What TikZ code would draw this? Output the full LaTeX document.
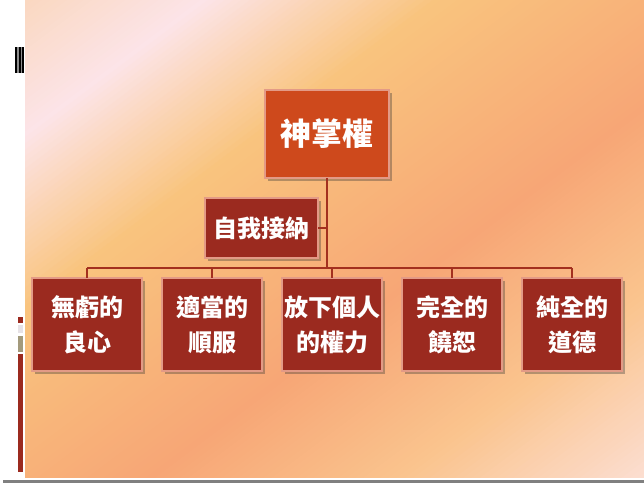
\documentclass[tikz,border=0pt]{standalone}
\usepackage{fontspec}
\newfontfamily\cjk{Noto Sans CJK TC}
\usetikzlibrary{shadows}
\definecolor{g0}{HTML}{F9D4B4}
\definecolor{g1}{HTML}{FCE4E8}
\definecolor{g2}{HTML}{F9C47E}
\definecolor{g3}{HTML}{F7A676}
\definecolor{g4}{HTML}{FAC48E}
\definecolor{g5}{HTML}{FCE2DC}
\definecolor{boxred}{HTML}{9B2A1F}
\definecolor{toporange}{HTML}{CE491C}
\definecolor{linered}{HTML}{A3301F}
\definecolor{edgepink}{HTML}{E39A86}
\definecolor{edgedark}{HTML}{7E2016}
\definecolor{barlight}{HTML}{E6E2E6}
\definecolor{barkhaki}{HTML}{A39A7C}
\begin{document}
\begin{tikzpicture}[x=1pt,y=-1pt,
  boxbase/.style={draw=edgedark, line width=0.5pt, double=edgepink, double distance=1.3pt,
    text=white, align=center, inner sep=0pt,
    drop shadow={shadow xshift=2.5pt, shadow yshift=-3pt, opacity=0.35, fill=black!80}},
  topbox/.style={boxbase, fill=toporange, minimum width=124pt, minimum height=88pt,
    font=\cjk\bfseries\fontsize{31pt}{36pt}\selectfont},
  midbox/.style={boxbase, fill=boxred, minimum width=113pt, minimum height=60pt,
    font=\cjk\bfseries\fontsize{24pt}{28pt}\selectfont},
  lowbox/.style={boxbase, fill=boxred, minimum width=100pt, minimum height=93pt,
    font=\cjk\bfseries\fontsize{24pt}{35pt}\selectfont},
  conn/.style={draw=linered, line width=1.6pt}]
\useasboundingbox (0,0) rectangle (644,484);
\fill[white] (0,0) rectangle (644,484);
% slide background gradient
\begin{scope}
  \clip (25,0) rectangle (644,477);
  \begin{scope}[rotate=-53.13]
    \foreach \a/\b/\ca/\cb in {-20/120/g0/g1,120/260/g1/g2,260/470/g2/g3,470/620/g3/g4,620/790/g4/g5}{
      \pgfmathtruncatemacro\n{(\b-\a)/5}
      \foreach \i in {0,...,\n}{
        \pgfmathtruncatemacro\t{100*\i/\n}
        \fill[\cb!\t!\ca] (\a+5*\i,-900) rectangle (\a+5*\i+5.8,900);
      }
    }
  \end{scope}
\end{scope}
% bottom edge line
\fill[black!50] (3,479.5) rectangle (644,482.5);
% left decorations
\fill[black] (15,47) rectangle (24,73);
\fill[black!45] (17.2,47) rectangle (18.6,73);
\fill[black!45] (21.2,47) rectangle (22.0,73);
\fill[boxred] (18,317) rectangle (23,323);
\fill[barlight] (18,325) rectangle (23,333);
\fill[barkhaki] (18,336) rectangle (23,352);
\fill[boxred] (18,354) rectangle (23,472);
% nodes
\node[topbox] (top) at (327,134) {神掌權};
\node[midbox] (self) at (261.5,228) {自我接納};
\node[lowbox, minimum width=110pt] (b1) at (87,324.5) {無虧的\\良心};
\node[lowbox] (b2) at (212,324.5) {適當的\\順服};
\node[lowbox] (b3) at (332,324.5) {放下個人\\的權力};
\node[lowbox] (b4) at (452,324.5) {完全的\\饒恕};
\node[lowbox] (b5) at (572,324.5) {純全的\\道德};
% connectors
\coordinate (bus) at (327,268);
\draw[conn] (top.south) -- (bus);
\draw[conn] (self.east) -- (self.east -| top.south);
\draw[conn] (b1.north |- bus) -- (b5.north |- bus);
\foreach \b in {b1,b2,b3,b4,b5}{
  \draw[conn] (\b.north |- bus) -- (\b.north);
}
\end{tikzpicture}
\end{document}
